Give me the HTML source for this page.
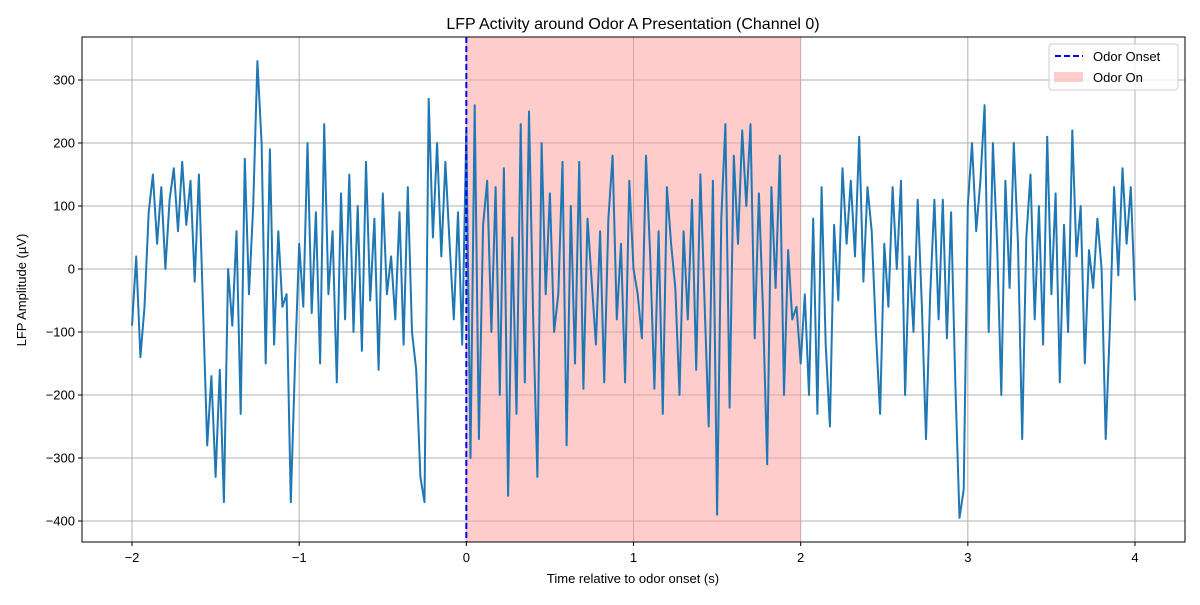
<!DOCTYPE html>
<html><head><meta charset="utf-8">
<style>
body{margin:0;background:#fff;}
svg text{font-family:"Liberation Sans","DejaVu Sans",sans-serif;fill:#000;}
</style></head>
<body>
<svg id="chart" width="1200" height="600" xmlns="http://www.w3.org/2000/svg">
<rect width="1200" height="600" fill="#fff"/>
<g id="grid"></g>
<rect id="odorSpan" fill="#ff9999" fill-opacity="0.5"/>
<g id="plot"></g>
<line id="onsetLine" stroke="#0000ff" stroke-width="2" stroke-dasharray="6,3"/>
<rect x="82" y="37" width="1103" height="505" fill="none" stroke="#000" stroke-width="1"/>
<g id="ticks"></g>
<text x="633" y="29" text-anchor="middle" font-size="16">LFP Activity around Odor A Presentation (Channel 0)</text>
<text x="633" y="583" text-anchor="middle" font-size="13">Time relative to odor onset (s)</text>
<text transform="translate(26,290) rotate(-90)" text-anchor="middle" font-size="13">LFP Amplitude (µV)</text>
<g>
<rect x="1049" y="44" width="129" height="46" rx="3" fill="#fff" fill-opacity="0.8" stroke="#ccc"/>
<line x1="1055" y1="56" x2="1083" y2="56" stroke="#0000ff" stroke-width="2" stroke-dasharray="6,3"/>
<text x="1093" y="61" font-size="13">Odor Onset</text>
<rect x="1054" y="72" width="29" height="10" fill="#ff9999" fill-opacity="0.5"/>
<text x="1093" y="82" font-size="13">Odor On</text>
</g>
</svg>
<script>
const tStart = -2.0;
const tStep = 0.025;
const lfpValues = [-90,20,-140,-60,90,150,40,130,0,110,160,60,170,70,140,-20,150,-60,-280,-170,-330,-160,-370,0,-90,60,-230,175,-40,100,330,200,-150,190,-120,60,-60,-40,-370,-150,40,-60,200,-70,90,-150,230,-40,60,-180,120,-80,150,-100,100,-130,170,-50,80,-160,120,-40,20,-80,90,-120,130,-100,-160,-330,-370,270,50,200,20,170,40,-80,90,-120,220,-300,260,-270,70,140,-100,130,-200,160,-360,50,-230,230,-180,250,-80,-330,200,-40,120,-100,-40,170,-280,100,-150,170,-190,80,-20,-120,60,-180,80,180,-80,40,-180,140,0,-40,-110,180,20,-190,60,-230,130,40,-30,-200,60,-80,110,-160,150,-50,-250,140,-390,80,230,-220,180,40,220,100,230,-110,120,-70,-310,130,-30,180,-200,30,-80,-60,-150,-40,-200,80,-230,130,-120,-250,70,-50,160,40,140,20,210,-20,130,60,-100,-230,40,-60,130,0,140,-200,20,-100,110,-60,-270,-40,110,-80,110,-110,90,-180,-395,-350,100,200,60,140,260,-100,200,40,-200,140,-30,200,40,-270,50,150,-80,100,-120,210,-40,120,-180,70,-100,220,20,100,-150,30,-30,80,0,-270,-90,130,-10,160,40,130,-50];
const xTicks = [-2,-1,0,1,2,3,4];
const yTicks = [-400,-300,-200,-100,0,100,200,300];
const odorOn = [0,2];

const X = t => 132 + (t + 2) * (1003 / 6);
const Y = v => 269 - v * 0.63;
const NS = "http://www.w3.org/2000/svg";
const grid = document.getElementById('grid');
const ticks = document.getElementById('ticks');
function mk(tag, attrs, parent){const e=document.createElementNS(NS,tag);for(const k in attrs)e.setAttribute(k,attrs[k]);parent.appendChild(e);return e;}
xTicks.forEach(t=>{
  const g = mk('line',{x1:X(t),x2:X(t),y1:37,y2:542,stroke:'#b0b0b0','stroke-width':1},grid);
  
  
  const tk = mk('line',{x1:X(t),x2:X(t),y1:542,y2:546,stroke:'#000'},ticks);
  
  
  const lb = mk('text',{x:X(t),y:562,'text-anchor':'middle','font-size':13},ticks);
  lb.textContent = t < 0 ? '\u2212' + Math.abs(t) : String(t);
  
  
});
yTicks.forEach(v=>{
  const g = mk('line',{x1:82,x2:1185,y1:Y(v),y2:Y(v),stroke:'#b0b0b0','stroke-width':1},grid);
  
  
  const tk = mk('line',{x1:78,x2:82,y1:Y(v),y2:Y(v),stroke:'#000'},ticks);
  
  
  const lb = mk('text',{x:75,y:Y(v)+4.5,'text-anchor':'end','font-size':13},ticks);
  lb.textContent = v < 0 ? '\u2212' + Math.abs(v) : String(v);
  
  
});
const span = document.getElementById('odorSpan');
span.setAttribute('x', X(odorOn[0]));
span.setAttribute('width', X(odorOn[1]) - X(odorOn[0]));
span.setAttribute('y', 37);
span.setAttribute('height', 505);
const ol = document.getElementById('onsetLine');
ol.setAttribute('x1', X(odorOn[0])); ol.setAttribute('x2', X(odorOn[0]));
ol.setAttribute('y1', 37); ol.setAttribute('y2', 542);
const pts = lfpValues.map((v,i)=>X(tStart + i*tStep).toFixed(1)+','+Y(v).toFixed(1)).join(' ');
const pl = mk('polyline',{points:pts,fill:'none',stroke:'#1f77b4','stroke-width':2,'stroke-linejoin':'round'},document.getElementById('plot'));


</script>
</body></html>
